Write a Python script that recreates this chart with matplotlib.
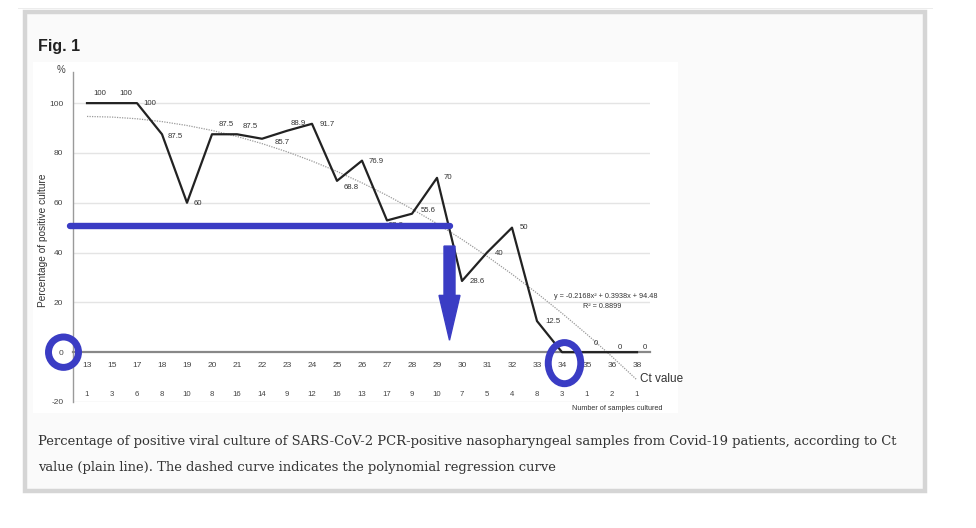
import matplotlib.pyplot as plt
from matplotlib.patches import Rectangle, Ellipse, FancyArrow
import numpy as np

ct_values = ["13", "15", "17", "18", "19", "20", "21", "22", "23", "24", "25", "26",
             "27", "28", "29", "30", "31", "32", "33", "34", "35", "36", "38"]
pct_positive = [100, 100, 100, 87.5, 60, 87.5, 87.5, 85.7, 88.9, 91.7, 68.8, 76.9,
                52.9, 55.6, 70, 28.6, 40, 50, 12.5, 0, 0, 0, 0]
n_samples = [1, 3, 6, 8, 10, 8, 16, 14, 9, 12, 16, 13, 17, 9, 10, 7, 5, 4, 8, 3, 1, 2, 1]
# regression printed on the chart: y = a x^2 + b x + c, x = 1..23
poly_coef = [-0.2168, 0.3938, 94.48]
y_ticks = [-20, 0, 20, 40, 60, 80, 100]

# label offsets in pixels (dx, dy), style only
lab_off = [(13, 10), (14, 10), (13, 0), (13, -2), (11, -1), (14, 10), (13, 8), (20, -4),
           (11, 7), (15, -1), (14, -7), (14, -1), (9, -5), (16, 3), (11, 0), (15, -1),
           (12, -1), (12, 0), (16, 0), (0, 0), (9, 9), (8, 5), (8, 5)]

W, H = 976, 528
fig = plt.figure(figsize=(W / 100, H / 100), dpi=100)
fig.patch.set_facecolor("white")

def fx(x):
    return x / W

def fy(y):
    return 1 - y / H

# page frame
fig.patches.append(Rectangle((fx(18), fy(9)), fx(915), 1.5 / H, transform=fig.transFigure,
                             facecolor="#ececec", edgecolor="none", zorder=-3))
fig.patches.append(Rectangle((fx(25), fy(491)), fx(900), (491 - 12) / H, transform=fig.transFigure,
                             facecolor="#fafafa", edgecolor="#d5d5d5", linewidth=3.2, zorder=-3))
# white chart image
fig.patches.append(Rectangle((fx(33), fy(413)), fx(645), (413 - 62) / H, transform=fig.transFigure,
                             facecolor="white", edgecolor="none", zorder=-2))

fig.text(fx(38), fy(46), "Fig. 1", fontsize=11.5, fontweight="bold", color="#222",
         family=["Liberation Sans Narrow", "Liberation Sans"], va="center", ha="left")

cap = ("Percentage of positive viral culture of SARS-CoV-2 PCR-positive nasopharyngeal samples "
       "from Covid-19 patients, according to Ct")
cap2 = "value (plain line). The dashed curve indicates the polynomial regression curve"
t1 = fig.text(fx(38), fy(442), cap, fontsize=10, family="DejaVu Serif", color="#333",
              va="center", ha="left")
t2 = fig.text(fx(38), fy(467), cap2, fontsize=10, family="DejaVu Serif", color="#333",
              va="center", ha="left")
# fit the caption to the width it has in the reference
r = fig.canvas.get_renderer()
fs = 10 * 862 / t1.get_window_extent(r).width
t1.set_fontsize(fs)
t2.set_fontsize(fs)

ax = fig.add_axes([fx(73), fy(402), (650 - 73) / W, (402 - 72) / H])
ax.set_zorder(2)
ax.set_facecolor("none")
for s in ["top", "right"]:
    ax.spines[s].set_visible(False)
ax.spines["bottom"].set_position(("data", 0))
ax.spines["bottom"].set_color("#888888")
ax.spines["bottom"].set_linewidth(1.6)
ax.spines["left"].set_color("#9a9a9a")
ax.spines["left"].set_linewidth(1)

x = np.arange(len(ct_values))
ax.set_xlim(-0.56, 22.52)
ax.set_ylim(-20, 112.5)

chart_font = "Liberation Sans"
ax.set_yticks(y_ticks)
ax.set_yticklabels([str(v) for v in y_ticks], fontsize=6, color="#444", family=chart_font)
ax.tick_params(axis="y", length=0, pad=7)
ax.set_xticks(x)
ax.set_xticklabels(ct_values, fontsize=6, color="#444", family=chart_font)
ax.tick_params(axis="x", length=0, pad=7)
for v in y_ticks:
    if v != 0:
        ax.axhline(v, color="#e4e4e4", linewidth=1, zorder=0)

# regression curve
xx = x + 1
trend = np.polyval(poly_coef, xx)
ax.plot(x, trend, color="#9a9a9a", linestyle=(0, (1, 1)), linewidth=0.9, zorder=2)

ax.plot(x, pct_positive, color="#222222", linewidth=1.6, zorder=3)
for i, v in enumerate(pct_positive):
    if i == 19:
        continue
    ax.annotate("%g" % v, (x[i], v), xytext=lab_off[i], textcoords="offset pixels",
                fontsize=5.6, color="#333", family=chart_font, ha="center", va="center")

for i, n in enumerate(n_samples):
    ax.text(x[i], -16.9, str(n), fontsize=5.6, color="#444", family=chart_font,
            ha="center", va="center")

fig.text(fx(61), fy(70), "%", fontsize=7, color="#444", family=chart_font, ha="center", va="center")
fig.text(fx(43), fy(240), "Percentage of positive culture", rotation=90, fontsize=7.3,
         color="#333", family=chart_font, ha="center", va="center")
fig.text(fx(640), fy(379), "Ct value", fontsize=8.5, color="#333", family=chart_font,
         ha="left", va="center")
fig.text(fx(617), fy(408), "Number of samples cultured", fontsize=5.2, color="#333",
         family=chart_font, ha="center", va="center")
fig.text(fx(606), fy(297), "y = -0.2168x\u00b2 + 0.3938x + 94.48", fontsize=5.2, color="#333",
         family=chart_font, ha="center", va="center")
fig.text(fx(602), fy(307), "R\u00b2 = 0.8899", fontsize=5.2, color="#333",
         family=chart_font, ha="center", va="center")

blue = "#3a3cc4"
ax.plot([-0.68, 14.52], [50.6, 50.6], color=blue, linewidth=4.6, solid_capstyle="round",
        zorder=5, clip_on=False)
ax.add_patch(FancyArrow(14.5, 42.6, 0, -37.8, width=0.44, head_width=0.84, head_length=18,
                        length_includes_head=True, color=blue, zorder=5))
ax.add_patch(Ellipse((-0.94, 0), 1.2, 12.2, fill=False, edgecolor=blue, linewidth=5,
                     clip_on=False, zorder=6))
ax.add_patch(Ellipse((19.1, -4.4), 1.3, 16.5, fill=False, edgecolor=blue, linewidth=5,
                     clip_on=False, zorder=6))

fig.savefig("out.png", dpi=100, facecolor=fig.get_facecolor())
